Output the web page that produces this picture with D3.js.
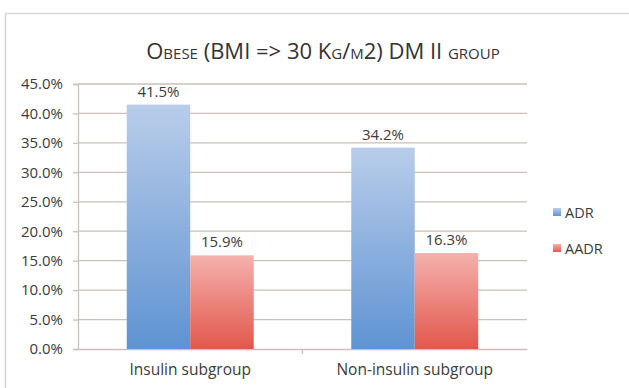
<!DOCTYPE html>
<html><head><meta charset="utf-8">
<script src="https://cdn.jsdelivr.net/npm/d3@7"></script>
<style>
html,body{margin:0;padding:0;background:#fff;}
svg{display:block;font-family:"Open Sans","DejaVu Sans",sans-serif;}
</style></head>
<body>
<svg id="chart" width="629" height="388"></svg>
<script>
const categories = ["Insulin subgroup", "Non-insulin subgroup"];
const seriesNames = ["ADR", "AADR"];
const adrValues = [41.5, 34.2];
const aadrValues = [15.9, 16.3];
const yTicks = [0, 5, 10, 15, 20, 25, 30, 35, 40, 45];
const titleText = "Obese (BMI => 30 Kg/m2) DM II group";

const svg = d3.select("#chart");
const m = {left: 78, right: 527, top: 84, bottom: 349};
const textCol = "#3b3b3b";

svg.append("rect").attr("x", 5.5).attr("y", 13.5).attr("width", 640).attr("height", 400)
  .attr("fill", "#fff").attr("stroke", "#d6d6d6").attr("stroke-width", 1.5);

const defs = svg.append("defs");
function grad(id, top, bot) {
  const g = defs.append("linearGradient").attr("id", id).attr("x1", 0).attr("y1", 0).attr("x2", 0).attr("y2", 1);
  g.append("stop").attr("offset", "0%").attr("stop-color", top);
  g.append("stop").attr("offset", "100%").attr("stop-color", bot);
}
grad("gADR", "#b9cdea", "#5f93d2");
grad("gAADR", "#f5b1ad", "#e2574b");
const fills = ["url(#gADR)", "url(#gAADR)"];

const x = d3.scaleBand().domain(categories).range([m.left, m.right]).paddingInner(0).paddingOuter(0);
const xs = d3.scaleBand().domain(seriesNames).range([0, x.bandwidth()]).paddingInner(0).paddingOuter(0.768);
const y = d3.scaleLinear().domain([0, 45]).range([m.bottom, m.top]);

svg.append("g").selectAll("line").data(yTicks.filter(d => d > 0)).join("line")
  .attr("x1", m.left).attr("x2", m.right)
  .attr("y1", d => y(d)).attr("y2", d => y(d))
  .attr("stroke", "#cdbfb9").attr("stroke-width", 1.3);

const yAxis = d3.axisLeft(y).tickValues(yTicks).tickSize(5).tickFormat(d => d.toFixed(1) + "%");
const gy = svg.append("g").attr("transform", `translate(${m.left},0)`).call(yAxis);
gy.select(".domain").attr("stroke", "#cdbfb9").attr("stroke-width", 1.3);
gy.selectAll(".tick line").attr("stroke", "#cdbfb9").attr("stroke-width", 1.3);
gy.selectAll(".tick text").attr("font-size", 15).attr("fill", textCol).attr("x", -15)
  .attr("font-family", "'Open Sans', sans-serif");

const xAxis = d3.axisBottom(x).tickSize(0).tickPadding(15);
const gx = svg.append("g").attr("transform", `translate(0,${m.bottom})`).call(xAxis);
gx.select(".domain").attr("stroke", "#cdbfb9").attr("stroke-width", 1.3);
gx.selectAll(".tick text").attr("font-size", 15.5).attr("fill", textCol)
  .attr("font-family", "'Open Sans', sans-serif");
svg.append("g").selectAll("line").data(categories.slice(1)).join("line")
  .attr("x1", d => x(d)).attr("x2", d => x(d))
  .attr("y1", m.bottom).attr("y2", m.bottom + 5)
  .attr("stroke", "#cdbfb9").attr("stroke-width", 1.3);

const data = categories.map((c, i) => ({cat: c, vals: [adrValues[i], aadrValues[i]]}));
const groups = svg.append("g").selectAll("g").data(data).join("g")
  .attr("transform", d => `translate(${x(d.cat)},0)`);
groups.selectAll("rect").data(d => d.vals.map((v, j) => ({v, s: seriesNames[j], j}))).join("rect")
  .attr("x", d => xs(d.s)).attr("width", xs.bandwidth())
  .attr("y", d => y(d.v)).attr("height", d => y(0) - y(d.v))
  .attr("fill", d => fills[d.j]);
groups.selectAll("text").data(d => d.vals.map((v, j) => ({v, s: seriesNames[j], j}))).join("text")
  .attr("x", d => xs(d.s) + xs.bandwidth() / 2).attr("y", d => y(d.v) - 8)
  .attr("text-anchor", "middle").attr("font-size", 15).attr("fill", textCol)
  .text(d => d.v.toFixed(1) + "%");

svg.append("text").attr("x", 323).attr("y", 59).attr("text-anchor", "middle")
  .attr("font-size", 22).attr("fill", "#333").style("font-variant", "small-caps")
  .text(titleText);

const lg = svg.append("g").selectAll("g").data(seriesNames).join("g")
  .attr("transform", (d, i) => `translate(553,${212 + i * 36})`);
lg.append("rect").attr("x", 0).attr("y", -4).attr("width", 8).attr("height", 8)
  .attr("fill", (d, i) => fills[i]);
lg.append("text").attr("x", 12).attr("y", 6).attr("font-size", 14.5).attr("fill", textCol).text(d => d);
</script>
</body></html>
